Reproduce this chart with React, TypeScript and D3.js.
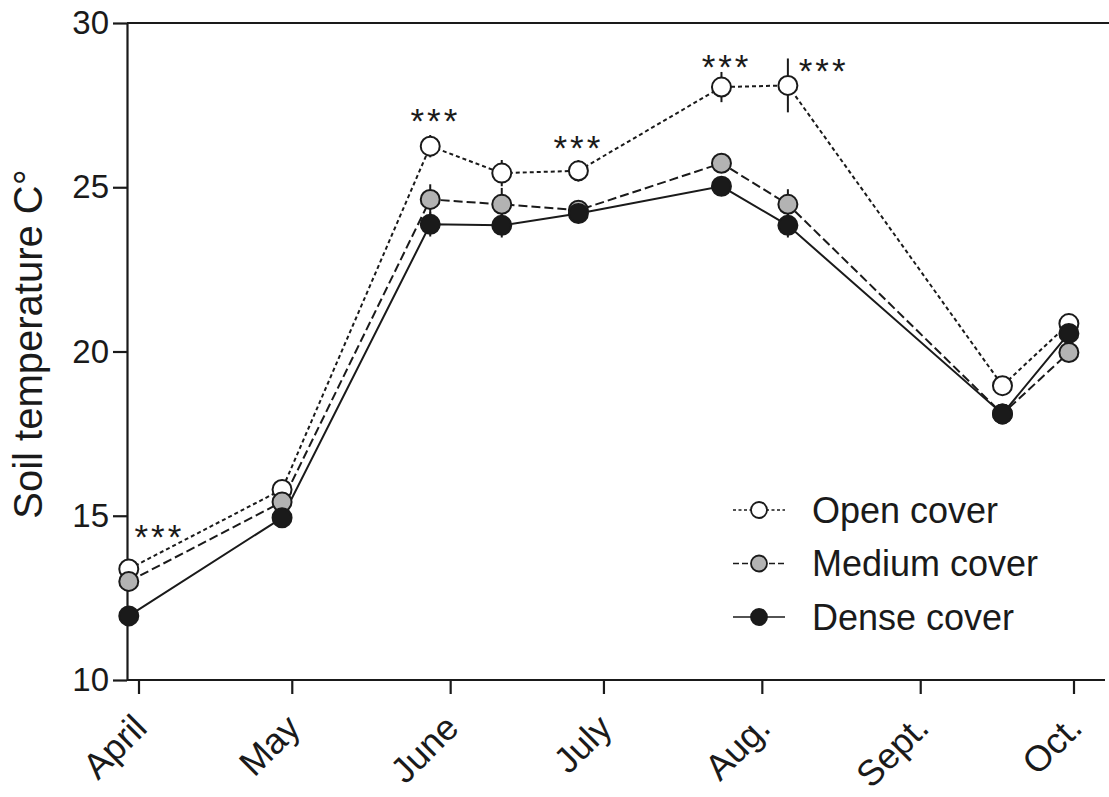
import { useEffect, useRef } from "react";
import * as d3 from "d3";

// sampling dates (year is arbitrary, non-leap)
const sampleDates = [
    "2013-03-30", "2013-04-29", "2013-05-28", "2013-06-11", "2013-06-26",
    "2013-07-24", "2013-08-06", "2013-09-17", "2013-09-30",
];

const openMean = [13.38, 15.8, 26.25, 25.43, 25.5, 28.05, 28.1, 18.96, 20.85];
const openErr = [0.2, 0.2, 0.34, 0.4, 0.33, 0.46, 0.82, 0.2, 0.2];
const mediumMean = [13.0, 15.42, 24.63, 24.48, 24.3, 25.73, 24.48, 18.1, 19.97];
const mediumErr = [0.2, 0.2, 0.46, 0.5, 0.2, 0.2, 0.46, 0.2, 0.2];
const denseMean = [11.95, 14.94, 23.87, 23.84, 24.2, 25.03, 23.84, 18.1, 20.55];
const denseErr = [0.2, 0.2, 0.37, 0.37, 0.2, 0.2, 0.37, 0.2, 0.2];

const monthTicks = ["2013-04-01", "2013-05-01", "2013-06-01", "2013-07-01", "2013-08-01", "2013-09-01", "2013-10-01"];
const monthLabels = ["April", "May", "June", "July", "Aug.", "Sept.", "Oct."];
const yTicks = [10, 15, 20, 25, 30];

// significance marks: date + temperature where the "***" sits
const sigDates = ["2013-04-05", "2013-05-29", "2013-06-26", "2013-07-25", "2013-08-13"];
const sigTemps = [14.6, 27.25, 26.43, 28.9, 28.78];

const legendNames = ["Open cover", "Medium cover", "Dense cover"];

const W = 1109;
const H = 797;
const FONT = "'Liberation Sans', Arial, sans-serif";
const INK = "#1a1a1a";

const parse = (s: string) => d3.timeParse("%Y-%m-%d")(s) as Date;

type Series = { name: string; mean: number[]; err: number[]; fill: string; dash: string | null };

export default function App() {
    const ref = useRef<SVGSVGElement | null>(null);

    useEffect(() => {
        if (!ref.current) return;
        const svg = d3.select(ref.current);
        svg.selectAll("*").remove();

        const plotLeft = 127;
        const plotRight = 1109;
        const plotTop = 23;
        const plotBottom = 680;

        const x = d3
            .scaleTime()
            .domain([parse(monthTicks[0]), parse(monthTicks[monthTicks.length - 1])])
            .range([139, 1074]);
        const y = d3.scaleLinear().domain([10, 30]).range([plotBottom, plotTop]);

        const series: Series[] = [
            { name: legendNames[0], mean: openMean, err: openErr, fill: "#ffffff", dash: "4,3" },
            { name: legendNames[1], mean: mediumMean, err: mediumErr, fill: "#b3b3b3", dash: "9,4" },
            { name: legendNames[2], mean: denseMean, err: denseErr, fill: INK, dash: null },
        ];
        const dates = sampleDates.map(parse);

        // y axis
        const yAxis = svg
            .append("g")
            .attr("transform", `translate(${plotLeft},0)`)
            .call(d3.axisLeft(y).tickValues(yTicks).tickSize(14).tickSizeOuter(0).tickPadding(4));
        yAxis.select(".domain").attr("stroke", INK).attr("stroke-width", 2.2);
        yAxis.selectAll(".tick line").attr("stroke", INK).attr("stroke-width", 2.2);
        yAxis
            .selectAll(".tick text")
            .attr("font-family", FONT)
            .attr("font-size", 33)
            .attr("fill", INK);

        // top frame line
        svg
            .append("line")
            .attr("x1", plotLeft)
            .attr("x2", plotRight)
            .attr("y1", y(30))
            .attr("y2", y(30))
            .attr("stroke", INK)
            .attr("stroke-width", 2.2);

        // x axis
        svg
            .append("line")
            .attr("x1", plotLeft)
            .attr("x2", 1105)
            .attr("y1", plotBottom)
            .attr("y2", plotBottom)
            .attr("stroke", INK)
            .attr("stroke-width", 2.2);
        const xg = svg.append("g");
        monthTicks.forEach((t, i) => {
            const px = x(parse(t));
            xg.append("line")
                .attr("x1", px)
                .attr("x2", px)
                .attr("y1", plotBottom)
                .attr("y2", plotBottom + 14)
                .attr("stroke", INK)
                .attr("stroke-width", 2.2);
            xg.append("text")
                .attr("transform", `translate(${px + 10},${730}) rotate(-45)`)
                .attr("text-anchor", "end")
                .attr("font-family", FONT)
                .attr("font-size", 36)
                .attr("fill", INK)
                .text(monthLabels[i]);
        });

        // y title
        svg.append("text")
            .attr("transform", `translate(42,344) rotate(-90)`)
            .attr("text-anchor", "middle")
            .attr("font-family", FONT)
            .attr("font-size", 40)
            .attr("fill", INK)
            .text("Soil temperature C°");

        // lines
        series.forEach(s => {
            const line = d3
                .line<number>()
                .x((_, i) => x(dates[i]))
                .y(d => y(d));
            svg.append("path")
                .attr("d", line(s.mean))
                .attr("fill", "none")
                .attr("stroke", INK)
                .attr("stroke-width", 2)
                .attr("stroke-dasharray", s.dash ?? "none");
        });

        // error bars
        series.forEach(s => {
            svg.append("g")
                .selectAll("line")
                .data(s.mean)
                .enter()
                .append("line")
                .attr("x1", (_, i) => x(dates[i]))
                .attr("x2", (_, i) => x(dates[i]))
                .attr("y1", (d, i) => y(d + s.err[i]))
                .attr("y2", (d, i) => y(d - s.err[i]))
                .attr("stroke", INK)
                .attr("stroke-width", 2);
        });

        // markers
        series.forEach(s => {
            svg.append("g")
                .selectAll("circle")
                .data(s.mean)
                .enter()
                .append("circle")
                .attr("cx", (_, i) => x(dates[i]))
                .attr("cy", d => y(d))
                .attr("r", 9.5)
                .attr("fill", s.fill)
                .attr("stroke", INK)
                .attr("stroke-width", 2);
        });

        // significance stars
        sigDates.forEach((d, i) => {
            svg.append("text")
                .attr("x", x(parse(d)))
                .attr("y", y(sigTemps[i]) + 20)
                .attr("text-anchor", "middle")
                .attr("font-family", FONT)
                .attr("font-size", 35)
                .attr("letter-spacing", 3)
                .attr("fill", INK)
                .text("***");
        });

        // legend
        const lg = svg.append("g").attr("transform", "translate(733,510)");
        series.forEach((s, i) => {
            const row = lg.append("g").attr("transform", `translate(0,${i * 53.5})`);
            row.append("line")
                .attr("x1", 0)
                .attr("x2", 52)
                .attr("stroke", INK)
                .attr("stroke-width", 1.6)
                .attr("stroke-dasharray", s.dash ? (i === 0 ? "3,2.5" : "6,3") : "none");
            row.append("circle")
                .attr("cx", 26)
                .attr("r", 8)
                .attr("fill", s.fill)
                .attr("stroke", INK)
                .attr("stroke-width", 1.8);
            row.append("text")
                .attr("x", 79)
                .attr("dy", "0.35em")
                .attr("font-family", FONT)
                .attr("font-size", 36)
                .attr("fill", INK)
                .text(s.name);
        });
    }, []);

    return (
        <svg
            ref={ref}
            width={W}
            height={H}
            style={{ position: "absolute", left: 0, top: 0, background: "#fff" }}
        />
    );
}
